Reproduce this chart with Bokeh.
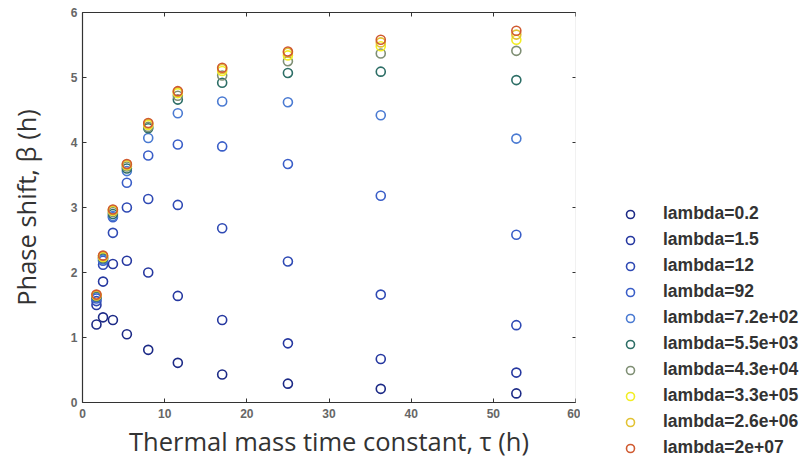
from bokeh.plotting import figure
from bokeh.layouts import row, column
from bokeh.models import (Range1d, LinearAxis, Legend, LegendItem, FixedTicker,
                          ColumnDataSource)
from bokeh.embed import file_html
from bokeh.resources import INLINE

tau = [1.7, 2.5, 3.7, 5.4, 8.0, 11.6, 17.0, 25.0, 36.3, 52.8]

labels = ["lambda=0.2", "lambda=1.5", "lambda=12", "lambda=92", "lambda=7.2e+02",
          "lambda=5.5e+03", "lambda=4.3e+04", "lambda=3.3e+05", "lambda=2.6e+06",
          "lambda=2e+07"]

beta_0_2 = [1.20, 1.31, 1.27, 1.05, 0.81, 0.61, 0.43, 0.29, 0.21, 0.14]
beta_1_5 = [1.50, 1.86, 2.13, 2.18, 2.00, 1.64, 1.27, 0.91, 0.67, 0.46]
beta_12 = [1.56, 2.12, 2.61, 3.00, 3.13, 3.04, 2.68, 2.17, 1.66, 1.19]
beta_92 = [1.60, 2.18, 2.85, 3.38, 3.80, 3.97, 3.94, 3.67, 3.18, 2.58]
beta_720 = [1.62, 2.20, 2.87, 3.56, 4.07, 4.45, 4.63, 4.62, 4.42, 4.06]
beta_5500 = [1.63, 2.22, 2.90, 3.60, 4.22, 4.66, 4.92, 5.07, 5.09, 4.96]
beta_43000 = [1.64, 2.23, 2.93, 3.63, 4.24, 4.72, 5.03, 5.25, 5.37, 5.41]
beta_3_3e5 = [1.65, 2.24, 2.95, 3.65, 4.27, 4.76, 5.10, 5.34, 5.48, 5.58]
beta_2_6e6 = [1.65, 2.25, 2.96, 3.66, 4.29, 4.78, 5.13, 5.38, 5.54, 5.66]
beta_2e7 = [1.66, 2.26, 2.97, 3.67, 4.30, 4.79, 5.15, 5.40, 5.58, 5.72]

series = [beta_0_2, beta_1_5, beta_12, beta_92, beta_720, beta_5500,
          beta_43000, beta_3_3e5, beta_2_6e6, beta_2e7]

colors = ["#1c2a86", "#2638a0", "#2f4ab4", "#3a5ec8", "#4a7ad2", "#2d6e66",
          "#7f8f74", "#f2ee24", "#e2c232", "#d05a30"]

x_ticks = [0, 10, 20, 30, 40, 50, 60]
y_ticks = [0, 1, 2, 3, 4, 5, 6]

p = figure(width=580, height=463, output_backend="svg", toolbar_location=None,
           x_range=Range1d(0, 60), y_range=Range1d(0, 6),
           min_border_left=82, min_border_right=5, min_border_top=12,
           min_border_bottom=61)
p.outline_line_color = None
p.grid.visible = False
p.background_fill_color = "white"
p.border_fill_color = "white"

for ax in [p.xaxis[0], p.yaxis[0]]:
    ax.axis_line_color = "#333333"
    ax.axis_line_width = 1.2
    ax.major_tick_in = 4
    ax.major_tick_out = 0
    ax.minor_tick_line_color = None
    ax.major_tick_line_color = "#333333"
    ax.major_label_text_font = "Liberation Sans"
    ax.major_label_text_font_size = "12px"
    ax.major_label_text_font_style = "bold"
    ax.major_label_text_color = "#666666"
p.xaxis[0].ticker = FixedTicker(ticks=x_ticks)
p.yaxis[0].ticker = FixedTicker(ticks=y_ticks)
p.xaxis[0].major_label_standoff = 6
p.yaxis[0].major_label_standoff = 5

p.xaxis[0].axis_label = "Thermal mass time constant, τ (h)"
p.yaxis[0].axis_label = "Phase shift, β (h)"
for ax in [p.xaxis[0], p.yaxis[0]]:
    ax.axis_label_text_font = "Open Sans"
    ax.axis_label_text_font_size = "25.5px"
    ax.axis_label_text_font_style = "normal"
    ax.axis_label_text_color = "#333333"
p.xaxis[0].axis_label_standoff = 3
p.yaxis[0].axis_label_standoff = 25

top = LinearAxis(ticker=FixedTicker(ticks=x_ticks),
                 major_label_overrides={t: "" for t in x_ticks},
                 axis_line_color="#333333", axis_line_width=1.2,
                 major_tick_in=4, major_tick_out=0, minor_tick_line_color=None,
                 major_tick_line_color="#333333", major_label_standoff=0)
p.add_layout(top, "above")
right = LinearAxis(ticker=FixedTicker(ticks=y_ticks),
                   major_label_overrides={t: "" for t in y_ticks},
                   axis_line_color="#dddddd", axis_line_alpha=0.4,
                   major_tick_in=3, major_tick_out=0, minor_tick_line_color=None,
                   major_tick_line_color="#333333", major_label_standoff=0)
p.add_layout(right, "right")

for lab, ys, c in zip(labels, series, colors):
    src = ColumnDataSource(dict(x=tau, y=ys))
    p.scatter("x", "y", source=src, size=9, marker="circle",
              fill_color=None, line_color=c, line_width=1.6)

# legend panel (separate figure holding only the legend keys)
pl = figure(width=224, height=463, output_backend="svg", toolbar_location=None,
            x_range=Range1d(0, 1), y_range=Range1d(0, 1),
            x_axis_location=None, y_axis_location=None,
            min_border_left=0, min_border_right=0, min_border_top=0,
            min_border_bottom=0)
pl.grid.visible = False
pl.outline_line_color = None
pl.border_fill_color = "white"
items = []
for lab, c in zip(labels, colors):
    k = pl.scatter(x=[-5], y=[-5], size=9, marker="circle", fill_color=None,
                   line_color=c, line_width=1.6)
    items.append(LegendItem(label=lab, renderers=[k]))

legend = Legend(items=items, location=(40, 5))
legend.border_line_color = None
legend.background_fill_alpha = 0
legend.padding = 0
legend.margin = 0
legend.spacing = 5
legend.glyph_width = 20
legend.glyph_height = 20
legend.label_height = 20
legend.label_standoff = 23
legend.label_text_font = "Liberation Sans"
legend.label_text_font_size = "17.5px"
legend.label_text_font_style = "bold"
legend.label_text_color = "#333333"
legend.label_text_baseline = "middle"
pl.add_layout(legend, "center")

layout = row(p, column(pl, spacing=0), spacing=0)
open("out.html", "w").write(file_html(layout, INLINE))
